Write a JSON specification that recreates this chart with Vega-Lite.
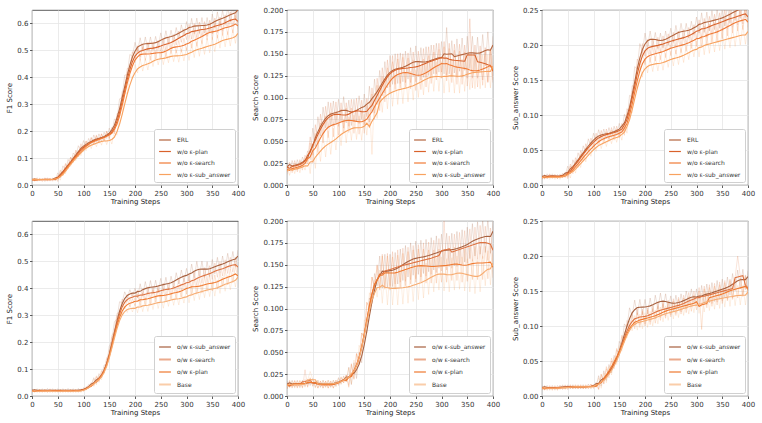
{
  "$schema": "https://vega.github.io/schema/vega-lite/v6.json",
  "background": "white",
  "padding": 5,
  "config": {
    "font": "DejaVu Sans",
    "view": {"stroke": "#333333", "strokeWidth": 0.8},
    "axis": {
      "labelFont": "DejaVu Sans", "titleFont": "DejaVu Sans",
      "labelFontSize": 7, "titleFontSize": 7, "titleFontWeight": "normal",
      "labelColor": "#333333", "titleColor": "#222222",
      "tickColor": "#333333", "tickSize": 2.5, "tickWidth": 0.8,
      "domain": false, "gridColor": "#e6e6e6", "gridWidth": 0.8,
      "labelPadding": 1.5, "titlePadding": 1, "labelFlush": false, "labelOverlap": false
    },
    "axisY": {"titlePadding": 4},
    "legend": {
      "orient": "bottom-right", "offset": 3, "padding": 4, "rowPadding": 1.5,
      "labelFont": "DejaVu Sans", "labelFontSize": 6, "labelColor": "#333333",
      "labelOffset": 5, "labelLimit": 150,
      "symbolType": "stroke", "symbolSize": 140, "symbolStrokeWidth": 1.2, "symbolOpacity": 1,
      "strokeColor": "#d0d0d0", "fillColor": "#ffffff", "cornerRadius": 2
    }
  },
  "datasets": {
    "namesTop": [
      {"k": "a", "name": "ERL"},
      {"k": "b", "name": "w/o ε-plan"},
      {"k": "c", "name": "w/o ε-search"},
      {"k": "d", "name": "w/o ε-sub_answer"}
    ],
    "namesBot": [
      {"k": "a", "name": "o/w ε-sub_answer"},
      {"k": "b", "name": "o/w ε-search"},
      {"k": "c", "name": "o/w ε-plan"},
      {"k": "d", "name": "Base"}
    ],
    "f1Top": [
      {"x":0,"a":0.026,"b":0.015,"c":0.014,"d":0.025},
      {"x":5,"a":0.014,"b":0.026,"c":0.025,"d":0.014},
      {"x":10,"a":0.027,"b":0.014,"c":0.015,"d":0.026},
      {"x":15,"a":0.015,"b":0.025,"c":0.026,"d":0.015},
      {"x":20,"a":0.026,"b":0.016,"c":0.013,"d":0.025},
      {"x":25,"a":0.013,"b":0.027,"c":0.025,"d":0.016},
      {"x":30,"a":0.027,"b":0.015,"c":0.014,"d":0.026},
      {"x":35,"a":0.016,"b":0.026,"c":0.026,"d":0.014},
      {"x":40,"a":0.026,"b":0.014,"c":0.015,"d":0.027},
      {"x":45,"a":0.016,"b":0.027,"c":0.027,"d":0.015},
      {"x":50,"a":0.045,"b":0.018,"c":0.013,"d":0.037},
      {"x":55,"a":0.027,"b":0.056,"c":0.05,"d":0.018},
      {"x":60,"a":0.071,"b":0.039,"c":0.034,"d":0.058},
      {"x":65,"a":0.054,"b":0.08,"c":0.076,"d":0.042},
      {"x":70,"a":0.095,"b":0.064,"c":0.06,"d":0.084},
      {"x":75,"a":0.076,"b":0.103,"c":0.103,"d":0.069},
      {"x":80,"a":0.119,"b":0.084,"c":0.085,"d":0.109},
      {"x":85,"a":0.105,"b":0.13,"c":0.124,"d":0.09},
      {"x":90,"a":0.146,"b":0.112,"c":0.104,"d":0.128},
      {"x":95,"a":0.127,"b":0.153,"c":0.143,"d":0.109},
      {"x":100,"a":0.165,"b":0.13,"c":0.125,"d":0.15},
      {"x":105,"a":0.139,"b":0.163,"c":0.164,"d":0.127},
      {"x":110,"a":0.173,"b":0.141,"c":0.142,"d":0.161},
      {"x":115,"a":0.15,"b":0.177,"c":0.175,"d":0.135},
      {"x":120,"a":0.186,"b":0.153,"c":0.149,"d":0.169},
      {"x":125,"a":0.158,"b":0.186,"c":0.182,"d":0.142},
      {"x":130,"a":0.19,"b":0.157,"c":0.155,"d":0.175},
      {"x":135,"a":0.162,"b":0.19,"c":0.19,"d":0.148},
      {"x":140,"a":0.196,"b":0.164,"c":0.164,"d":0.181},
      {"x":145,"a":0.173,"b":0.2,"c":0.198,"d":0.15},
      {"x":150,"a":0.211,"b":0.176,"c":0.172,"d":0.177},
      {"x":155,"a":0.191,"b":0.214,"c":0.209,"d":0.152},
      {"x":160,"a":0.245,"b":0.197,"c":0.19,"d":0.198},
      {"x":165,"a":0.242,"b":0.265,"c":0.253,"d":0.185},
      {"x":170,"a":0.32,"b":0.267,"c":0.25,"d":0.258},
      {"x":175,"a":0.325,"b":0.348,"c":0.335,"d":0.262},
      {"x":180,"a":0.408,"b":0.355,"c":0.342,"d":0.34},
      {"x":185,"a":0.41,"b":0.433,"c":0.42,"d":0.342},
      {"x":190,"a":0.485,"b":0.432,"c":0.415,"d":0.408},
      {"x":195,"a":0.477,"b":0.495,"c":0.478,"d":0.395},
      {"x":200,"a":0.53,"b":0.472,"c":0.455,"d":0.448},
      {"x":205,"a":0.495,"b":0.517,"c":0.507,"d":0.416},
      {"x":210,"a":0.547,"b":0.475,"c":0.463,"d":0.467},
      {"x":215,"a":0.5,"b":0.524,"c":0.512,"d":0.423},
      {"x":220,"a":0.55,"b":0.483,"c":0.463,"d":0.47},
      {"x":225,"a":0.501,"b":0.53,"c":0.509,"d":0.427},
      {"x":230,"a":0.55,"b":0.485,"c":0.463,"d":0.48},
      {"x":235,"a":0.503,"b":0.532,"c":0.515,"d":0.44},
      {"x":240,"a":0.552,"b":0.487,"c":0.468,"d":0.49},
      {"x":245,"a":0.51,"b":0.537,"c":0.515,"d":0.446},
      {"x":250,"a":0.565,"b":0.496,"c":0.467,"d":0.492},
      {"x":255,"a":0.523,"b":0.545,"c":0.517,"d":0.447},
      {"x":260,"a":0.573,"b":0.501,"c":0.475,"d":0.496},
      {"x":265,"a":0.525,"b":0.549,"c":0.53,"d":0.454},
      {"x":270,"a":0.575,"b":0.507,"c":0.488,"d":0.503},
      {"x":275,"a":0.532,"b":0.559,"c":0.537,"d":0.458},
      {"x":280,"a":0.585,"b":0.52,"c":0.49,"d":0.502},
      {"x":285,"a":0.543,"b":0.572,"c":0.537,"d":0.456},
      {"x":290,"a":0.595,"b":0.53,"c":0.493,"d":0.504},
      {"x":295,"a":0.553,"b":0.58,"c":0.545,"d":0.461},
      {"x":300,"a":0.607,"b":0.54,"c":0.5,"d":0.51},
      {"x":305,"a":0.56,"b":0.597,"c":0.558,"d":0.463},
      {"x":310,"a":0.619,"b":0.542,"c":0.508,"d":0.525},
      {"x":315,"a":0.562,"b":0.6,"c":0.57,"d":0.473},
      {"x":320,"a":0.62,"b":0.547,"c":0.515,"d":0.532},
      {"x":325,"a":0.563,"b":0.605,"c":0.577,"d":0.478},
      {"x":330,"a":0.622,"b":0.551,"c":0.525,"d":0.537},
      {"x":335,"a":0.564,"b":0.607,"c":0.59,"d":0.485},
      {"x":340,"a":0.622,"b":0.552,"c":0.538,"d":0.545},
      {"x":345,"a":0.568,"b":0.612,"c":0.598,"d":0.491},
      {"x":350,"a":0.635,"b":0.561,"c":0.54,"d":0.549},
      {"x":355,"a":0.583,"b":0.62,"c":0.599,"d":0.495},
      {"x":360,"a":0.643,"b":0.566,"c":0.545,"d":0.557},
      {"x":365,"a":0.588,"b":0.624,"c":0.608,"d":0.508},
      {"x":370,"a":0.649,"b":0.57,"c":0.555,"d":0.568},
      {"x":375,"a":0.596,"b":0.632,"c":0.615,"d":0.513},
      {"x":380,"a":0.66,"b":0.583,"c":0.558,"d":0.57},
      {"x":385,"a":0.606,"b":0.643,"c":0.617,"d":0.516},
      {"x":390,"a":0.667,"b":0.588,"c":0.565,"d":0.577},
      {"x":395,"a":0.612,"b":0.645,"c":0.63,"d":0.526},
      {"x":400,"a":0.673,"b":0.59,"c":0.578,"d":0.586}
    ],
    "searchTop": [
      {"x":0,"a":0.026,"b":0.015,"c":0.012,"d":0.021},
      {"x":5,"a":0.016,"b":0.026,"c":0.024,"d":0.011},
      {"x":10,"a":0.028,"b":0.016,"c":0.014,"d":0.023},
      {"x":15,"a":0.017,"b":0.028,"c":0.025,"d":0.013},
      {"x":20,"a":0.029,"b":0.017,"c":0.015,"d":0.025},
      {"x":25,"a":0.019,"b":0.029,"c":0.027,"d":0.014},
      {"x":30,"a":0.032,"b":0.02,"c":0.017,"d":0.026},
      {"x":35,"a":0.024,"b":0.034,"c":0.031,"d":0.017},
      {"x":40,"a":0.039,"b":0.027,"c":0.024,"d":0.031},
      {"x":45,"a":0.029,"b":0.055,"c":0.048,"d":0.013},
      {"x":50,"a":0.065,"b":0.034,"c":0.025,"d":0.044},
      {"x":55,"a":0.044,"b":0.069,"c":0.059,"d":0.019},
      {"x":60,"a":0.078,"b":0.047,"c":0.037,"d":0.051},
      {"x":65,"a":0.056,"b":0.081,"c":0.071,"d":0.027},
      {"x":70,"a":0.089,"b":0.058,"c":0.048,"d":0.058},
      {"x":75,"a":0.065,"b":0.09,"c":0.079,"d":0.032},
      {"x":80,"a":0.095,"b":0.065,"c":0.054,"d":0.062},
      {"x":85,"a":0.068,"b":0.094,"c":0.083,"d":0.035},
      {"x":90,"a":0.096,"b":0.067,"c":0.055,"d":0.065},
      {"x":95,"a":0.069,"b":0.095,"c":0.084,"d":0.04},
      {"x":100,"a":0.098,"b":0.067,"c":0.057,"d":0.071},
      {"x":105,"a":0.072,"b":0.094,"c":0.087,"d":0.045},
      {"x":110,"a":0.101,"b":0.065,"c":0.06,"d":0.075},
      {"x":115,"a":0.071,"b":0.094,"c":0.088,"d":0.048},
      {"x":120,"a":0.097,"b":0.067,"c":0.06,"d":0.078},
      {"x":125,"a":0.068,"b":0.098,"c":0.088,"d":0.051},
      {"x":130,"a":0.098,"b":0.072,"c":0.059,"d":0.08},
      {"x":135,"a":0.073,"b":0.099,"c":0.086,"d":0.052},
      {"x":140,"a":0.102,"b":0.07,"c":0.058,"d":0.079},
      {"x":145,"a":0.075,"b":0.097,"c":0.086,"d":0.051},
      {"x":150,"a":0.104,"b":0.069,"c":0.059,"d":0.081},
      {"x":155,"a":0.078,"b":0.099,"c":0.091,"d":0.057},
      {"x":160,"a":0.113,"b":0.072,"c":0.065,"d":0.094},
      {"x":165,"a":0.083,"b":0.111,"c":0.104,"d":0.035},
      {"x":170,"a":0.121,"b":0.082,"c":0.075,"d":0.105},
      {"x":175,"a":0.092,"b":0.122,"c":0.114,"d":0.076},
      {"x":180,"a":0.131,"b":0.094,"c":0.085,"d":0.114},
      {"x":185,"a":0.102,"b":0.134,"c":0.124,"d":0.083},
      {"x":190,"a":0.141,"b":0.105,"c":0.095,"d":0.119},
      {"x":195,"a":0.111,"b":0.143,"c":0.134,"d":0.087},
      {"x":200,"a":0.148,"b":0.112,"c":0.104,"d":0.123},
      {"x":205,"a":0.115,"b":0.148,"c":0.141,"d":0.09},
      {"x":210,"a":0.15,"b":0.115,"c":0.109,"d":0.125},
      {"x":215,"a":0.116,"b":0.15,"c":0.144,"d":0.092},
      {"x":220,"a":0.151,"b":0.116,"c":0.111,"d":0.127},
      {"x":225,"a":0.118,"b":0.15,"c":0.146,"d":0.093},
      {"x":230,"a":0.153,"b":0.117,"c":0.112,"d":0.128},
      {"x":235,"a":0.121,"b":0.151,"c":0.145,"d":0.095},
      {"x":240,"a":0.157,"b":0.117,"c":0.11,"d":0.13},
      {"x":245,"a":0.124,"b":0.152,"c":0.143,"d":0.097},
      {"x":250,"a":0.159,"b":0.118,"c":0.108,"d":0.132},
      {"x":255,"a":0.124,"b":0.153,"c":0.142,"d":0.1},
      {"x":260,"a":0.157,"b":0.12,"c":0.109,"d":0.136},
      {"x":265,"a":0.123,"b":0.156,"c":0.144,"d":0.103},
      {"x":270,"a":0.158,"b":0.123,"c":0.112,"d":0.139},
      {"x":275,"a":0.125,"b":0.158,"c":0.148,"d":0.106},
      {"x":280,"a":0.16,"b":0.125,"c":0.116,"d":0.141},
      {"x":285,"a":0.127,"b":0.16,"c":0.152,"d":0.107},
      {"x":290,"a":0.162,"b":0.127,"c":0.12,"d":0.141},
      {"x":295,"a":0.129,"b":0.162,"c":0.155,"d":0.107},
      {"x":300,"a":0.164,"b":0.129,"c":0.122,"d":0.141},
      {"x":305,"a":0.127,"b":0.164,"c":0.158,"d":0.105},
      {"x":310,"a":0.18,"b":0.125,"c":0.119,"d":0.144},
      {"x":315,"a":0.127,"b":0.162,"c":0.156,"d":0.106},
      {"x":320,"a":0.165,"b":0.124,"c":0.117,"d":0.144},
      {"x":325,"a":0.128,"b":0.161,"c":0.154,"d":0.105},
      {"x":330,"a":0.167,"b":0.123,"c":0.115,"d":0.143},
      {"x":335,"a":0.13,"b":0.161,"c":0.153,"d":0.105},
      {"x":340,"a":0.168,"b":0.123,"c":0.115,"d":0.144},
      {"x":345,"a":0.131,"b":0.16,"c":0.152,"d":0.107},
      {"x":350,"a":0.17,"b":0.122,"c":0.113,"d":0.146},
      {"x":355,"a":0.133,"b":0.19,"c":0.15,"d":0.109},
      {"x":360,"a":0.17,"b":0.122,"c":0.111,"d":0.148},
      {"x":365,"a":0.131,"b":0.16,"c":0.149,"d":0.11},
      {"x":370,"a":0.169,"b":0.122,"c":0.112,"d":0.148},
      {"x":375,"a":0.132,"b":0.159,"c":0.151,"d":0.11},
      {"x":380,"a":0.172,"b":0.12,"c":0.114,"d":0.149},
      {"x":385,"a":0.136,"b":0.157,"c":0.153,"d":0.111},
      {"x":390,"a":0.175,"b":0.118,"c":0.117,"d":0.149},
      {"x":395,"a":0.135,"b":0.155,"c":0.156,"d":0.111},
      {"x":400,"a":0.17,"b":0.117,"c":0.12,"d":0.148}
    ],
    "subTop": [
      {"x":0,"a":0.015,"b":0.008,"c":0.008,"d":0.013},
      {"x":5,"a":0.009,"b":0.015,"c":0.014,"d":0.008},
      {"x":10,"a":0.016,"b":0.009,"c":0.009,"d":0.014},
      {"x":15,"a":0.01,"b":0.016,"c":0.015,"d":0.008},
      {"x":20,"a":0.016,"b":0.01,"c":0.009,"d":0.014},
      {"x":25,"a":0.01,"b":0.015,"c":0.015,"d":0.008},
      {"x":30,"a":0.015,"b":0.009,"c":0.009,"d":0.014},
      {"x":35,"a":0.01,"b":0.015,"c":0.015,"d":0.008},
      {"x":40,"a":0.017,"b":0.01,"c":0.01,"d":0.015},
      {"x":45,"a":0.013,"b":0.018,"c":0.017,"d":0.01},
      {"x":50,"a":0.027,"b":0.011,"c":0.009,"d":0.022},
      {"x":55,"a":0.016,"b":0.03,"c":0.027,"d":0.01},
      {"x":60,"a":0.036,"b":0.019,"c":0.016,"d":0.028},
      {"x":65,"a":0.026,"b":0.039,"c":0.035,"d":0.017},
      {"x":70,"a":0.046,"b":0.029,"c":0.025,"d":0.036},
      {"x":75,"a":0.036,"b":0.049,"c":0.044,"d":0.025},
      {"x":80,"a":0.056,"b":0.039,"c":0.034,"d":0.044},
      {"x":85,"a":0.046,"b":0.059,"c":0.053,"d":0.033},
      {"x":90,"a":0.066,"b":0.048,"c":0.042,"d":0.052},
      {"x":95,"a":0.055,"b":0.067,"c":0.061,"d":0.041},
      {"x":100,"a":0.074,"b":0.056,"c":0.05,"d":0.06},
      {"x":105,"a":0.062,"b":0.074,"c":0.068,"d":0.048},
      {"x":110,"a":0.079,"b":0.061,"c":0.056,"d":0.065},
      {"x":115,"a":0.065,"b":0.078,"c":0.073,"d":0.052},
      {"x":120,"a":0.08,"b":0.064,"c":0.06,"d":0.068},
      {"x":125,"a":0.066,"b":0.08,"c":0.076,"d":0.055},
      {"x":130,"a":0.082,"b":0.066,"c":0.062,"d":0.072},
      {"x":135,"a":0.068,"b":0.082,"c":0.078,"d":0.059},
      {"x":140,"a":0.084,"b":0.068,"c":0.064,"d":0.075},
      {"x":145,"a":0.071,"b":0.084,"c":0.08,"d":0.061},
      {"x":150,"a":0.088,"b":0.071,"c":0.067,"d":0.077},
      {"x":155,"a":0.076,"b":0.088,"c":0.085,"d":0.064},
      {"x":160,"a":0.101,"b":0.076,"c":0.071,"d":0.087},
      {"x":165,"a":0.09,"b":0.109,"c":0.102,"d":0.074},
      {"x":170,"a":0.128,"b":0.102,"c":0.094,"d":0.109},
      {"x":175,"a":0.126,"b":0.142,"c":0.134,"d":0.103},
      {"x":180,"a":0.169,"b":0.14,"c":0.131,"d":0.143},
      {"x":185,"a":0.166,"b":0.18,"c":0.17,"d":0.137},
      {"x":190,"a":0.202,"b":0.172,"c":0.161,"d":0.17},
      {"x":195,"a":0.19,"b":0.202,"c":0.19,"d":0.154},
      {"x":200,"a":0.217,"b":0.184,"c":0.172,"d":0.18},
      {"x":205,"a":0.197,"b":0.208,"c":0.196,"d":0.16},
      {"x":210,"a":0.22,"b":0.187,"c":0.175,"d":0.183},
      {"x":215,"a":0.198,"b":0.209,"c":0.198,"d":0.162},
      {"x":220,"a":0.218,"b":0.188,"c":0.177,"d":0.184},
      {"x":225,"a":0.195,"b":0.211,"c":0.2,"d":0.163},
      {"x":230,"a":0.217,"b":0.19,"c":0.179,"d":0.185},
      {"x":235,"a":0.196,"b":0.213,"c":0.202,"d":0.164},
      {"x":240,"a":0.22,"b":0.192,"c":0.182,"d":0.188},
      {"x":245,"a":0.2,"b":0.216,"c":0.206,"d":0.168},
      {"x":250,"a":0.224,"b":0.195,"c":0.185,"d":0.191},
      {"x":255,"a":0.204,"b":0.218,"c":0.208,"d":0.17},
      {"x":260,"a":0.228,"b":0.197,"c":0.187,"d":0.193},
      {"x":265,"a":0.208,"b":0.22,"c":0.21,"d":0.172},
      {"x":270,"a":0.231,"b":0.199,"c":0.189,"d":0.195},
      {"x":275,"a":0.209,"b":0.222,"c":0.212,"d":0.175},
      {"x":280,"a":0.231,"b":0.201,"c":0.191,"d":0.199},
      {"x":285,"a":0.21,"b":0.225,"c":0.215,"d":0.179},
      {"x":290,"a":0.234,"b":0.205,"c":0.195,"d":0.203},
      {"x":295,"a":0.215,"b":0.229,"c":0.219,"d":0.183},
      {"x":300,"a":0.24,"b":0.209,"c":0.198,"d":0.206},
      {"x":305,"a":0.217,"b":0.236,"c":0.224,"d":0.183},
      {"x":310,"a":0.246,"b":0.209,"c":0.197,"d":0.213},
      {"x":315,"a":0.218,"b":0.238,"c":0.227,"d":0.186},
      {"x":320,"a":0.247,"b":0.211,"c":0.201,"d":0.215},
      {"x":325,"a":0.22,"b":0.241,"c":0.23,"d":0.188},
      {"x":330,"a":0.249,"b":0.215,"c":0.203,"d":0.217},
      {"x":335,"a":0.222,"b":0.244,"c":0.232,"d":0.19},
      {"x":340,"a":0.251,"b":0.217,"c":0.205,"d":0.219},
      {"x":345,"a":0.224,"b":0.246,"c":0.235,"d":0.192},
      {"x":350,"a":0.253,"b":0.22,"c":0.209,"d":0.221},
      {"x":355,"a":0.227,"b":0.25,"c":0.239,"d":0.194},
      {"x":360,"a":0.257,"b":0.223,"c":0.213,"d":0.223},
      {"x":365,"a":0.231,"b":0.252,"c":0.243,"d":0.196},
      {"x":370,"a":0.261,"b":0.225,"c":0.217,"d":0.225},
      {"x":375,"a":0.235,"b":0.254,"c":0.247,"d":0.198},
      {"x":380,"a":0.265,"b":0.228,"c":0.22,"d":0.227},
      {"x":385,"a":0.238,"b":0.257,"c":0.249,"d":0.2},
      {"x":390,"a":0.267,"b":0.23,"c":0.222,"d":0.229},
      {"x":395,"a":0.239,"b":0.259,"c":0.251,"d":0.201},
      {"x":400,"a":0.267,"b":0.232,"c":0.225,"d":0.228}
    ],
    "f1Bot": [
      {"x":0,"a":0.027,"b":0.015,"c":0.013,"d":0.023},
      {"x":5,"a":0.015,"b":0.026,"c":0.024,"d":0.012},
      {"x":10,"a":0.027,"b":0.014,"c":0.014,"d":0.023},
      {"x":15,"a":0.016,"b":0.026,"c":0.025,"d":0.012},
      {"x":20,"a":0.027,"b":0.015,"c":0.013,"d":0.024},
      {"x":25,"a":0.015,"b":0.026,"c":0.025,"d":0.013},
      {"x":30,"a":0.028,"b":0.014,"c":0.013,"d":0.023},
      {"x":35,"a":0.016,"b":0.027,"c":0.026,"d":0.012},
      {"x":40,"a":0.027,"b":0.015,"c":0.013,"d":0.024},
      {"x":45,"a":0.015,"b":0.025,"c":0.025,"d":0.012},
      {"x":50,"a":0.027,"b":0.014,"c":0.014,"d":0.023},
      {"x":55,"a":0.016,"b":0.026,"c":0.025,"d":0.012},
      {"x":60,"a":0.027,"b":0.015,"c":0.013,"d":0.024},
      {"x":65,"a":0.015,"b":0.026,"c":0.024,"d":0.013},
      {"x":70,"a":0.028,"b":0.014,"c":0.014,"d":0.023},
      {"x":75,"a":0.015,"b":0.026,"c":0.025,"d":0.012},
      {"x":80,"a":0.027,"b":0.015,"c":0.013,"d":0.024},
      {"x":85,"a":0.016,"b":0.026,"c":0.025,"d":0.012},
      {"x":90,"a":0.028,"b":0.014,"c":0.014,"d":0.024},
      {"x":95,"a":0.016,"b":0.027,"c":0.025,"d":0.013},
      {"x":100,"a":0.031,"b":0.019,"c":0.017,"d":0.027},
      {"x":105,"a":0.025,"b":0.035,"c":0.033,"d":0.021},
      {"x":110,"a":0.043,"b":0.031,"c":0.029,"d":0.039},
      {"x":115,"a":0.04,"b":0.05,"c":0.048,"d":0.036},
      {"x":120,"a":0.068,"b":0.039,"c":0.036,"d":0.063},
      {"x":125,"a":0.047,"b":0.075,"c":0.071,"d":0.041},
      {"x":130,"a":0.083,"b":0.055,"c":0.051,"d":0.077},
      {"x":135,"a":0.067,"b":0.095,"c":0.091,"d":0.06},
      {"x":140,"a":0.115,"b":0.087,"c":0.083,"d":0.107},
      {"x":145,"a":0.117,"b":0.143,"c":0.138,"d":0.105},
      {"x":150,"a":0.185,"b":0.153,"c":0.147,"d":0.169},
      {"x":155,"a":0.202,"b":0.225,"c":0.218,"d":0.182},
      {"x":160,"a":0.275,"b":0.24,"c":0.231,"d":0.25},
      {"x":165,"a":0.287,"b":0.307,"c":0.296,"d":0.257},
      {"x":170,"a":0.35,"b":0.31,"c":0.295,"d":0.31},
      {"x":175,"a":0.347,"b":0.36,"c":0.343,"d":0.3},
      {"x":180,"a":0.387,"b":0.344,"c":0.325,"d":0.335},
      {"x":185,"a":0.364,"b":0.377,"c":0.358,"d":0.31},
      {"x":190,"a":0.395,"b":0.352,"c":0.332,"d":0.339},
      {"x":195,"a":0.369,"b":0.382,"c":0.362,"d":0.312},
      {"x":200,"a":0.4,"b":0.356,"c":0.336,"d":0.342},
      {"x":205,"a":0.365,"b":0.394,"c":0.378,"d":0.309},
      {"x":210,"a":0.417,"b":0.35,"c":0.334,"d":0.358},
      {"x":215,"a":0.373,"b":0.399,"c":0.383,"d":0.313},
      {"x":220,"a":0.425,"b":0.357,"c":0.336,"d":0.359},
      {"x":225,"a":0.38,"b":0.406,"c":0.386,"d":0.314},
      {"x":230,"a":0.429,"b":0.361,"c":0.341,"d":0.363},
      {"x":235,"a":0.381,"b":0.407,"c":0.393,"d":0.321},
      {"x":240,"a":0.43,"b":0.362,"c":0.348,"d":0.37},
      {"x":245,"a":0.385,"b":0.412,"c":0.397,"d":0.325},
      {"x":250,"a":0.437,"b":0.37,"c":0.349,"d":0.371},
      {"x":255,"a":0.392,"b":0.419,"c":0.397,"d":0.326},
      {"x":260,"a":0.441,"b":0.374,"c":0.351,"d":0.375},
      {"x":265,"a":0.394,"b":0.42,"c":0.403,"d":0.333},
      {"x":270,"a":0.445,"b":0.375,"c":0.358,"d":0.382},
      {"x":275,"a":0.403,"b":0.425,"c":0.408,"d":0.337},
      {"x":280,"a":0.458,"b":0.384,"c":0.361,"d":0.383},
      {"x":285,"a":0.416,"b":0.435,"c":0.411,"d":0.338},
      {"x":290,"a":0.468,"b":0.392,"c":0.367,"d":0.387},
      {"x":295,"a":0.423,"b":0.44,"c":0.421,"d":0.345},
      {"x":300,"a":0.474,"b":0.397,"c":0.378,"d":0.395},
      {"x":305,"a":0.427,"b":0.453,"c":0.432,"d":0.346},
      {"x":310,"a":0.49,"b":0.4,"c":0.377,"d":0.407},
      {"x":315,"a":0.437,"b":0.461,"c":0.436,"d":0.354},
      {"x":320,"a":0.5,"b":0.411,"c":0.378,"d":0.412},
      {"x":325,"a":0.444,"b":0.472,"c":0.437,"d":0.358},
      {"x":330,"a":0.501,"b":0.419,"c":0.382,"d":0.417},
      {"x":335,"a":0.441,"b":0.477,"c":0.444,"d":0.365},
      {"x":340,"a":0.499,"b":0.424,"c":0.389,"d":0.424},
      {"x":345,"a":0.444,"b":0.484,"c":0.448,"d":0.369},
      {"x":350,"a":0.507,"b":0.433,"c":0.39,"d":0.425},
      {"x":355,"a":0.454,"b":0.494,"c":0.45,"d":0.371},
      {"x":360,"a":0.515,"b":0.441,"c":0.397,"d":0.431},
      {"x":365,"a":0.459,"b":0.499,"c":0.461,"d":0.381},
      {"x":370,"a":0.52,"b":0.446,"c":0.408,"d":0.442},
      {"x":375,"a":0.467,"b":0.506,"c":0.469,"d":0.389},
      {"x":380,"a":0.53,"b":0.455,"c":0.413,"d":0.447},
      {"x":385,"a":0.476,"b":0.515,"c":0.474,"d":0.394},
      {"x":390,"a":0.537,"b":0.46,"c":0.421,"d":0.455},
      {"x":395,"a":0.481,"b":0.516,"c":0.485,"d":0.405},
      {"x":400,"a":0.542,"b":0.46,"c":0.433,"d":0.465}
    ],
    "searchBot": [
      {"x":0,"a":0.017,"b":0.008,"c":0.008,"d":0.015},
      {"x":5,"a":0.01,"b":0.017,"c":0.018,"d":0.009},
      {"x":10,"a":0.018,"b":0.009,"c":0.01,"d":0.017},
      {"x":15,"a":0.01,"b":0.017,"c":0.018,"d":0.009},
      {"x":20,"a":0.018,"b":0.009,"c":0.01,"d":0.017},
      {"x":25,"a":0.01,"b":0.017,"c":0.018,"d":0.009},
      {"x":30,"a":0.018,"b":0.009,"c":0.01,"d":0.017},
      {"x":35,"a":0.011,"b":0.03,"c":0.019,"d":0.01},
      {"x":40,"a":0.019,"b":0.01,"c":0.011,"d":0.018},
      {"x":45,"a":0.012,"b":0.02,"c":0.021,"d":0.028},
      {"x":50,"a":0.02,"b":0.011,"c":0.012,"d":0.019},
      {"x":55,"a":0.01,"b":0.017,"c":0.018,"d":0.009},
      {"x":60,"a":0.018,"b":0.009,"c":0.009,"d":0.018},
      {"x":65,"a":0.01,"b":0.017,"c":0.017,"d":0.01},
      {"x":70,"a":0.018,"b":0.009,"c":0.009,"d":0.018},
      {"x":75,"a":0.01,"b":0.017,"c":0.017,"d":0.01},
      {"x":80,"a":0.018,"b":0.009,"c":0.009,"d":0.018},
      {"x":85,"a":0.01,"b":0.017,"c":0.017,"d":0.01},
      {"x":90,"a":0.018,"b":0.009,"c":0.009,"d":0.018},
      {"x":95,"a":0.011,"b":0.018,"c":0.018,"d":0.011},
      {"x":100,"a":0.021,"b":0.012,"c":0.013,"d":0.02},
      {"x":105,"a":0.014,"b":0.021,"c":0.022,"d":0.013},
      {"x":110,"a":0.023,"b":0.015,"c":0.015,"d":0.022},
      {"x":115,"a":0.016,"b":0.024,"c":0.024,"d":0.016},
      {"x":120,"a":0.033,"b":0.012,"c":0.01,"d":0.032},
      {"x":125,"a":0.013,"b":0.037,"c":0.036,"d":0.014},
      {"x":130,"a":0.038,"b":0.02,"c":0.019,"d":0.041},
      {"x":135,"a":0.02,"b":0.049,"c":0.048,"d":0.026},
      {"x":140,"a":0.049,"b":0.037,"c":0.036,"d":0.058},
      {"x":145,"a":0.038,"b":0.072,"c":0.072,"d":0.049},
      {"x":150,"a":0.075,"b":0.067,"c":0.067,"d":0.087},
      {"x":155,"a":0.072,"b":0.107,"c":0.107,"d":0.082},
      {"x":160,"a":0.112,"b":0.101,"c":0.101,"d":0.118},
      {"x":165,"a":0.106,"b":0.136,"c":0.136,"d":0.106},
      {"x":170,"a":0.14,"b":0.123,"c":0.123,"d":0.133},
      {"x":175,"a":0.126,"b":0.15,"c":0.149,"d":0.113},
      {"x":180,"a":0.16,"b":0.123,"c":0.121,"d":0.144},
      {"x":185,"a":0.123,"b":0.162,"c":0.16,"d":0.106},
      {"x":190,"a":0.162,"b":0.124,"c":0.122,"d":0.143},
      {"x":195,"a":0.124,"b":0.163,"c":0.16,"d":0.104},
      {"x":200,"a":0.162,"b":0.126,"c":0.121,"d":0.142},
      {"x":205,"a":0.125,"b":0.165,"c":0.159,"d":0.104},
      {"x":210,"a":0.164,"b":0.128,"c":0.122,"d":0.142},
      {"x":215,"a":0.128,"b":0.167,"c":0.161,"d":0.104},
      {"x":220,"a":0.168,"b":0.13,"c":0.124,"d":0.143},
      {"x":225,"a":0.132,"b":0.169,"c":0.163,"d":0.105},
      {"x":230,"a":0.172,"b":0.131,"c":0.126,"d":0.143},
      {"x":235,"a":0.136,"b":0.17,"c":0.165,"d":0.106},
      {"x":240,"a":0.175,"b":0.133,"c":0.128,"d":0.145},
      {"x":245,"a":0.138,"b":0.172,"c":0.167,"d":0.108},
      {"x":250,"a":0.177,"b":0.134,"c":0.13,"d":0.147},
      {"x":255,"a":0.139,"b":0.173,"c":0.168,"d":0.11},
      {"x":260,"a":0.178,"b":0.136,"c":0.13,"d":0.149},
      {"x":265,"a":0.14,"b":0.175,"c":0.168,"d":0.112},
      {"x":270,"a":0.179,"b":0.137,"c":0.129,"d":0.152},
      {"x":275,"a":0.142,"b":0.176,"c":0.167,"d":0.116},
      {"x":280,"a":0.181,"b":0.139,"c":0.129,"d":0.156},
      {"x":285,"a":0.144,"b":0.178,"c":0.167,"d":0.119},
      {"x":290,"a":0.183,"b":0.141,"c":0.129,"d":0.158},
      {"x":295,"a":0.146,"b":0.18,"c":0.168,"d":0.121},
      {"x":300,"a":0.185,"b":0.143,"c":0.13,"d":0.159},
      {"x":305,"a":0.148,"b":0.2,"c":0.168,"d":0.12},
      {"x":310,"a":0.186,"b":0.144,"c":0.13,"d":0.157},
      {"x":315,"a":0.148,"b":0.183,"c":0.169,"d":0.119},
      {"x":320,"a":0.186,"b":0.146,"c":0.132,"d":0.158},
      {"x":325,"a":0.149,"b":0.185,"c":0.17,"d":0.121},
      {"x":330,"a":0.188,"b":0.148,"c":0.132,"d":0.16},
      {"x":335,"a":0.151,"b":0.187,"c":0.169,"d":0.122},
      {"x":340,"a":0.19,"b":0.15,"c":0.13,"d":0.159},
      {"x":345,"a":0.153,"b":0.189,"c":0.168,"d":0.12},
      {"x":350,"a":0.193,"b":0.152,"c":0.131,"d":0.157},
      {"x":355,"a":0.157,"b":0.191,"c":0.17,"d":0.119},
      {"x":360,"a":0.197,"b":0.154,"c":0.133,"d":0.156},
      {"x":365,"a":0.16,"b":0.193,"c":0.171,"d":0.117},
      {"x":370,"a":0.199,"b":0.156,"c":0.133,"d":0.155},
      {"x":375,"a":0.162,"b":0.195,"c":0.171,"d":0.119},
      {"x":380,"a":0.201,"b":0.157,"c":0.133,"d":0.16},
      {"x":385,"a":0.164,"b":0.194,"c":0.171,"d":0.126},
      {"x":390,"a":0.202,"b":0.155,"c":0.134,"d":0.166},
      {"x":395,"a":0.163,"b":0.192,"c":0.172,"d":0.127},
      {"x":400,"a":0.2,"b":0.153,"c":0.135,"d":0.163}
    ],
    "subBot": [
      {"x":0,"a":0.015,"b":0.009,"c":0.008,"d":0.014},
      {"x":5,"a":0.009,"b":0.015,"c":0.014,"d":0.008},
      {"x":10,"a":0.015,"b":0.009,"c":0.008,"d":0.014},
      {"x":15,"a":0.009,"b":0.015,"c":0.014,"d":0.008},
      {"x":20,"a":0.015,"b":0.009,"c":0.008,"d":0.014},
      {"x":25,"a":0.009,"b":0.015,"c":0.014,"d":0.008},
      {"x":30,"a":0.015,"b":0.009,"c":0.008,"d":0.014},
      {"x":35,"a":0.01,"b":0.015,"c":0.015,"d":0.009},
      {"x":40,"a":0.016,"b":0.01,"c":0.009,"d":0.015},
      {"x":45,"a":0.01,"b":0.016,"c":0.015,"d":0.009},
      {"x":50,"a":0.016,"b":0.01,"c":0.009,"d":0.015},
      {"x":55,"a":0.01,"b":0.016,"c":0.016,"d":0.01},
      {"x":60,"a":0.016,"b":0.01,"c":0.01,"d":0.016},
      {"x":65,"a":0.01,"b":0.016,"c":0.016,"d":0.01},
      {"x":70,"a":0.016,"b":0.01,"c":0.01,"d":0.016},
      {"x":75,"a":0.01,"b":0.016,"c":0.016,"d":0.01},
      {"x":80,"a":0.016,"b":0.01,"c":0.01,"d":0.016},
      {"x":85,"a":0.01,"b":0.016,"c":0.016,"d":0.01},
      {"x":90,"a":0.017,"b":0.011,"c":0.01,"d":0.016},
      {"x":95,"a":0.011,"b":0.017,"c":0.017,"d":0.01},
      {"x":100,"a":0.017,"b":0.011,"c":0.011,"d":0.016},
      {"x":105,"a":0.013,"b":0.019,"c":0.019,"d":0.012},
      {"x":110,"a":0.029,"b":0.01,"c":0.009,"d":0.026},
      {"x":115,"a":0.014,"b":0.031,"c":0.031,"d":0.011},
      {"x":120,"a":0.036,"b":0.017,"c":0.018,"d":0.033},
      {"x":125,"a":0.022,"b":0.039,"c":0.042,"d":0.019},
      {"x":130,"a":0.045,"b":0.026,"c":0.03,"d":0.042},
      {"x":135,"a":0.033,"b":0.05,"c":0.054,"d":0.03},
      {"x":140,"a":0.058,"b":0.039,"c":0.043,"d":0.055},
      {"x":145,"a":0.049,"b":0.066,"c":0.068,"d":0.045},
      {"x":150,"a":0.078,"b":0.058,"c":0.058,"d":0.072},
      {"x":155,"a":0.072,"b":0.087,"c":0.085,"d":0.064},
      {"x":160,"a":0.103,"b":0.08,"c":0.076,"d":0.092},
      {"x":165,"a":0.098,"b":0.108,"c":0.103,"d":0.083},
      {"x":170,"a":0.126,"b":0.097,"c":0.092,"d":0.107},
      {"x":175,"a":0.114,"b":0.119,"c":0.114,"d":0.093},
      {"x":180,"a":0.137,"b":0.101,"c":0.096,"d":0.115},
      {"x":185,"a":0.116,"b":0.124,"c":0.119,"d":0.094},
      {"x":190,"a":0.138,"b":0.102,"c":0.098,"d":0.117},
      {"x":195,"a":0.116,"b":0.124,"c":0.121,"d":0.096},
      {"x":200,"a":0.138,"b":0.103,"c":0.1,"d":0.119},
      {"x":205,"a":0.117,"b":0.126,"c":0.123,"d":0.098},
      {"x":210,"a":0.14,"b":0.106,"c":0.102,"d":0.121},
      {"x":215,"a":0.12,"b":0.13,"c":0.125,"d":0.1},
      {"x":220,"a":0.144,"b":0.11,"c":0.104,"d":0.123},
      {"x":225,"a":0.124,"b":0.133,"c":0.128,"d":0.103},
      {"x":230,"a":0.147,"b":0.112,"c":0.108,"d":0.127},
      {"x":235,"a":0.125,"b":0.135,"c":0.132,"d":0.106},
      {"x":240,"a":0.146,"b":0.114,"c":0.111,"d":0.129},
      {"x":245,"a":0.122,"b":0.137,"c":0.134,"d":0.108},
      {"x":250,"a":0.143,"b":0.116,"c":0.113,"d":0.131},
      {"x":255,"a":0.121,"b":0.139,"c":0.136,"d":0.11},
      {"x":260,"a":0.144,"b":0.118,"c":0.115,"d":0.133},
      {"x":265,"a":0.123,"b":0.141,"c":0.138,"d":0.112},
      {"x":270,"a":0.146,"b":0.12,"c":0.117,"d":0.135},
      {"x":275,"a":0.126,"b":0.144,"c":0.14,"d":0.115},
      {"x":280,"a":0.15,"b":0.124,"c":0.119,"d":0.138},
      {"x":285,"a":0.13,"b":0.148,"c":0.142,"d":0.117},
      {"x":290,"a":0.153,"b":0.127,"c":0.121,"d":0.14},
      {"x":295,"a":0.131,"b":0.15,"c":0.144,"d":0.119},
      {"x":300,"a":0.153,"b":0.129,"c":0.123,"d":0.142},
      {"x":305,"a":0.129,"b":0.155,"c":0.15,"d":0.118},
      {"x":310,"a":0.158,"b":0.128,"c":0.095,"d":0.147},
      {"x":315,"a":0.131,"b":0.157,"c":0.153,"d":0.12},
      {"x":320,"a":0.16,"b":0.13,"c":0.126,"d":0.149},
      {"x":325,"a":0.133,"b":0.159,"c":0.155,"d":0.122},
      {"x":330,"a":0.162,"b":0.132,"c":0.128,"d":0.151},
      {"x":335,"a":0.135,"b":0.161,"c":0.157,"d":0.124},
      {"x":340,"a":0.165,"b":0.134,"c":0.13,"d":0.153},
      {"x":345,"a":0.138,"b":0.163,"c":0.159,"d":0.125},
      {"x":350,"a":0.167,"b":0.136,"c":0.132,"d":0.154},
      {"x":355,"a":0.14,"b":0.165,"c":0.162,"d":0.127},
      {"x":360,"a":0.17,"b":0.138,"c":0.136,"d":0.155},
      {"x":365,"a":0.144,"b":0.167,"c":0.165,"d":0.128},
      {"x":370,"a":0.175,"b":0.14,"c":0.138,"d":0.157},
      {"x":375,"a":0.15,"b":0.169,"c":0.167,"d":0.129},
      {"x":380,"a":0.18,"b":0.2,"c":0.14,"d":0.158},
      {"x":385,"a":0.153,"b":0.171,"c":0.169,"d":0.13},
      {"x":390,"a":0.181,"b":0.144,"c":0.142,"d":0.158},
      {"x":395,"a":0.152,"b":0.173,"c":0.171,"d":0.13},
      {"x":400,"a":0.179,"b":0.146,"c":0.144,"d":0.158}
    ]
  },
  "columns": 3,
  "bounds": "flush",
  "spacing": {"row": 36, "column": 49},
  "resolve": {"scale": {"color": "independent"}, "legend": {"color": "independent"}},
  "concat": [
    {
      "width": 206, "height": 175,
      "data": {"name": "f1Top"},
      "transform": [
        {"fold": ["a", "b", "c", "d"], "as": ["k", "y"]},
        {"lookup": "k", "from": {"data": {"name": "namesTop"}, "key": "k", "fields": ["name"]}},
        {"window": [{"op": "mean", "field": "y", "as": "ys"}], "frame": [-2, 1], "groupby": ["k"], "sort": [{"field": "x"}]}
      ],
      "encoding": {
        "x": {"field": "x", "type": "quantitative", "title": "Training Steps", "scale": {"domain": [0, 400], "nice": false}, "axis": {"values": [0, 50, 100, 150, 200, 250, 300, 350, 400]}},
        "color": {"field": "name", "type": "nominal", "title": null,
          "scale": {"domain": ["ERL", "w/o ε-plan", "w/o ε-search", "w/o ε-sub_answer"], "range": ["#b5653e", "#d9622b", "#f07a36", "#f8a25f"]}}
      },
      "layer": [
        {"mark": {"type": "line", "strokeWidth": 0.6, "opacity": 0.33, "clip": true},
         "encoding": {"y": {"field": "y", "type": "quantitative", "title": "F1 Score", "scale": {"domain": [0, 0.65], "nice": false}, "axis": {"values": [0, 0.1, 0.2, 0.3, 0.4, 0.5, 0.6], "format": ".1f"}}}},
        {"mark": {"type": "line", "strokeWidth": 1.1, "clip": true},
         "encoding": {"y": {"field": "ys", "type": "quantitative", "title": "F1 Score", "scale": {"domain": [0, 0.65], "nice": false}, "axis": {"values": [0, 0.1, 0.2, 0.3, 0.4, 0.5, 0.6], "format": ".1f"}}}}
      ]
    },
    {
      "width": 206, "height": 175,
      "data": {"name": "searchTop"},
      "transform": [
        {"fold": ["a", "b", "c", "d"], "as": ["k", "y"]},
        {"lookup": "k", "from": {"data": {"name": "namesTop"}, "key": "k", "fields": ["name"]}},
        {"window": [{"op": "mean", "field": "y", "as": "ys"}], "frame": [-2, 1], "groupby": ["k"], "sort": [{"field": "x"}]}
      ],
      "encoding": {
        "x": {"field": "x", "type": "quantitative", "title": "Training Steps", "scale": {"domain": [0, 400], "nice": false}, "axis": {"values": [0, 50, 100, 150, 200, 250, 300, 350, 400]}},
        "color": {"field": "name", "type": "nominal", "title": null,
          "scale": {"domain": ["ERL", "w/o ε-plan", "w/o ε-search", "w/o ε-sub_answer"], "range": ["#b5653e", "#d9622b", "#f07a36", "#f8a25f"]}}
      },
      "layer": [
        {"mark": {"type": "line", "strokeWidth": 0.6, "opacity": 0.33, "clip": true},
         "encoding": {"y": {"field": "y", "type": "quantitative", "title": "Search Score", "scale": {"domain": [0, 0.2], "nice": false}, "axis": {"values": [0, 0.025, 0.05, 0.075, 0.1, 0.125, 0.15, 0.175, 0.2], "format": ".3f"}}}},
        {"mark": {"type": "line", "strokeWidth": 1.1, "clip": true},
         "encoding": {"y": {"field": "ys", "type": "quantitative", "title": "Search Score", "scale": {"domain": [0, 0.2], "nice": false}, "axis": {"values": [0, 0.025, 0.05, 0.075, 0.1, 0.125, 0.15, 0.175, 0.2], "format": ".3f"}}}}
      ]
    },
    {
      "width": 206, "height": 175,
      "data": {"name": "subTop"},
      "transform": [
        {"fold": ["a", "b", "c", "d"], "as": ["k", "y"]},
        {"lookup": "k", "from": {"data": {"name": "namesTop"}, "key": "k", "fields": ["name"]}},
        {"window": [{"op": "mean", "field": "y", "as": "ys"}], "frame": [-2, 1], "groupby": ["k"], "sort": [{"field": "x"}]}
      ],
      "encoding": {
        "x": {"field": "x", "type": "quantitative", "title": "Training Steps", "scale": {"domain": [0, 400], "nice": false}, "axis": {"values": [0, 50, 100, 150, 200, 250, 300, 350, 400]}},
        "color": {"field": "name", "type": "nominal", "title": null,
          "scale": {"domain": ["ERL", "w/o ε-plan", "w/o ε-search", "w/o ε-sub_answer"], "range": ["#b5653e", "#d9622b", "#f07a36", "#f8a25f"]}}
      },
      "layer": [
        {"mark": {"type": "line", "strokeWidth": 0.6, "opacity": 0.33, "clip": true},
         "encoding": {"y": {"field": "y", "type": "quantitative", "title": "Sub_answer Score", "scale": {"domain": [0, 0.25], "nice": false}, "axis": {"values": [0, 0.05, 0.1, 0.15, 0.2, 0.25], "format": ".2f"}}}},
        {"mark": {"type": "line", "strokeWidth": 1.1, "clip": true},
         "encoding": {"y": {"field": "ys", "type": "quantitative", "title": "Sub_answer Score", "scale": {"domain": [0, 0.25], "nice": false}, "axis": {"values": [0, 0.05, 0.1, 0.15, 0.2, 0.25], "format": ".2f"}}}}
      ]
    },
    {
      "width": 206, "height": 175,
      "data": {"name": "f1Bot"},
      "transform": [
        {"fold": ["a", "b", "c", "d"], "as": ["k", "y"]},
        {"lookup": "k", "from": {"data": {"name": "namesBot"}, "key": "k", "fields": ["name"]}},
        {"window": [{"op": "mean", "field": "y", "as": "ys"}], "frame": [-2, 1], "groupby": ["k"], "sort": [{"field": "x"}]}
      ],
      "encoding": {
        "x": {"field": "x", "type": "quantitative", "title": "Training Steps", "scale": {"domain": [0, 400], "nice": false}, "axis": {"values": [0, 50, 100, 150, 200, 250, 300, 350, 400]}},
        "color": {"field": "name", "type": "nominal", "title": null,
          "scale": {"domain": ["o/w ε-sub_answer", "o/w ε-search", "o/w ε-plan", "Base"], "range": ["#a8613f", "#de7341", "#f07a30", "#f7ac71"]},
          "legend": {"symbolOpacity": 0.6, "symbolStrokeWidth": 2}}
      },
      "layer": [
        {"mark": {"type": "line", "strokeWidth": 0.6, "opacity": 0.33, "clip": true},
         "encoding": {"y": {"field": "y", "type": "quantitative", "title": "F1 Score", "scale": {"domain": [0, 0.65], "nice": false}, "axis": {"values": [0, 0.1, 0.2, 0.3, 0.4, 0.5, 0.6], "format": ".1f"}}}},
        {"mark": {"type": "line", "strokeWidth": 1.1, "clip": true},
         "encoding": {"y": {"field": "ys", "type": "quantitative", "title": "F1 Score", "scale": {"domain": [0, 0.65], "nice": false}, "axis": {"values": [0, 0.1, 0.2, 0.3, 0.4, 0.5, 0.6], "format": ".1f"}}}}
      ]
    },
    {
      "width": 206, "height": 175,
      "data": {"name": "searchBot"},
      "transform": [
        {"fold": ["a", "b", "c", "d"], "as": ["k", "y"]},
        {"lookup": "k", "from": {"data": {"name": "namesBot"}, "key": "k", "fields": ["name"]}},
        {"window": [{"op": "mean", "field": "y", "as": "ys"}], "frame": [-2, 1], "groupby": ["k"], "sort": [{"field": "x"}]}
      ],
      "encoding": {
        "x": {"field": "x", "type": "quantitative", "title": "Training Steps", "scale": {"domain": [0, 400], "nice": false}, "axis": {"values": [0, 50, 100, 150, 200, 250, 300, 350, 400]}},
        "color": {"field": "name", "type": "nominal", "title": null,
          "scale": {"domain": ["o/w ε-sub_answer", "o/w ε-search", "o/w ε-plan", "Base"], "range": ["#a8613f", "#de7341", "#f07a30", "#f7ac71"]},
          "legend": {"symbolOpacity": 0.6, "symbolStrokeWidth": 2}}
      },
      "layer": [
        {"mark": {"type": "line", "strokeWidth": 0.6, "opacity": 0.33, "clip": true},
         "encoding": {"y": {"field": "y", "type": "quantitative", "title": "Search Score", "scale": {"domain": [0, 0.2], "nice": false}, "axis": {"values": [0, 0.025, 0.05, 0.075, 0.1, 0.125, 0.15, 0.175, 0.2], "format": ".3f"}}}},
        {"mark": {"type": "line", "strokeWidth": 1.1, "clip": true},
         "encoding": {"y": {"field": "ys", "type": "quantitative", "title": "Search Score", "scale": {"domain": [0, 0.2], "nice": false}, "axis": {"values": [0, 0.025, 0.05, 0.075, 0.1, 0.125, 0.15, 0.175, 0.2], "format": ".3f"}}}}
      ]
    },
    {
      "width": 206, "height": 175,
      "data": {"name": "subBot"},
      "transform": [
        {"fold": ["a", "b", "c", "d"], "as": ["k", "y"]},
        {"lookup": "k", "from": {"data": {"name": "namesBot"}, "key": "k", "fields": ["name"]}},
        {"window": [{"op": "mean", "field": "y", "as": "ys"}], "frame": [-2, 1], "groupby": ["k"], "sort": [{"field": "x"}]}
      ],
      "encoding": {
        "x": {"field": "x", "type": "quantitative", "title": "Training Steps", "scale": {"domain": [0, 400], "nice": false}, "axis": {"values": [0, 50, 100, 150, 200, 250, 300, 350, 400]}},
        "color": {"field": "name", "type": "nominal", "title": null,
          "scale": {"domain": ["o/w ε-sub_answer", "o/w ε-search", "o/w ε-plan", "Base"], "range": ["#a8613f", "#de7341", "#f07a30", "#f7ac71"]},
          "legend": {"symbolOpacity": 0.6, "symbolStrokeWidth": 2}}
      },
      "layer": [
        {"mark": {"type": "line", "strokeWidth": 0.6, "opacity": 0.33, "clip": true},
         "encoding": {"y": {"field": "y", "type": "quantitative", "title": "Sub_answer Score", "scale": {"domain": [0, 0.25], "nice": false}, "axis": {"values": [0, 0.05, 0.1, 0.15, 0.2, 0.25], "format": ".2f"}}}},
        {"mark": {"type": "line", "strokeWidth": 1.1, "clip": true},
         "encoding": {"y": {"field": "ys", "type": "quantitative", "title": "Sub_answer Score", "scale": {"domain": [0, 0.25], "nice": false}, "axis": {"values": [0, 0.05, 0.1, 0.15, 0.2, 0.25], "format": ".2f"}}}}
      ]
    }
  ]
}
